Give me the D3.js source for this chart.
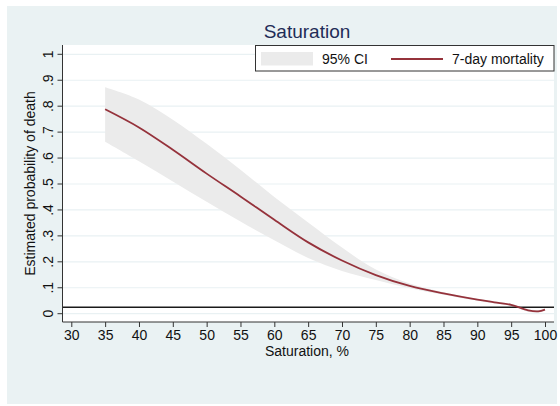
<!DOCTYPE html>
<html><head>
<script src="https://d3js.org/d3.v7.min.js"></script>
<style>
  body { margin: 0; background: #fff; }
  text { font-family: "Liberation Sans", Arial, sans-serif; }
</style>
</head>
<body>
<script>
// values
const saturation = [35, 40, 45, 50, 55, 60, 65, 70, 75, 80, 85, 90, 92.5, 95, 97.5, 99, 100];
const mortality  = [0.788, 0.718, 0.632, 0.540, 0.452, 0.362, 0.275, 0.205, 0.149, 0.107, 0.078, 0.054, 0.044, 0.034, 0.013, 0.009, 0.016];
const ciUpper    = [0.873, 0.826, 0.748, 0.655, 0.555, 0.450, 0.352, 0.255, 0.170, 0.116, 0.083, 0.058, 0.048, 0.038, 0.018, 0.014, 0.021];
const ciLower    = [0.663, 0.588, 0.510, 0.432, 0.355, 0.283, 0.215, 0.165, 0.130, 0.098, 0.073, 0.050, 0.040, 0.030, 0.008, 0.004, 0.011];
const refLine = 0.025;
const xTicks = [30, 35, 40, 45, 50, 55, 60, 65, 70, 75, 80, 85, 90, 95, 100];
const yTicks = [0, 0.1, 0.2, 0.3, 0.4, 0.5, 0.6, 0.7, 0.8, 0.9, 1];

const data = saturation.map((s, i) => ({x: s, y: mortality[i], lo: ciLower[i], hi: ciUpper[i]}));

const svg = d3.select("body").append("svg")
    .attr("width", 560).attr("height", 406);

// graph region
svg.append("rect").attr("x", 7).attr("y", 6).attr("width", 550).attr("height", 398)
    .style("fill", "#eaf2f3");

const plot = {left: 62.5, right: 554, top: 45, bottom: 322};
svg.append("rect")
    .attr("x", plot.left).attr("y", plot.top)
    .attr("width", plot.right - plot.left).attr("height", plot.bottom - plot.top)
    .style("fill", "#fff");

const x = d3.scaleLinear().domain([30, 100]).range([71.3, 545]);
const y = d3.scaleLinear().domain([0, 1]).range([313.7, 54.3]);

// gridlines
svg.append("g").selectAll("line").data(yTicks).join("line")
    .attr("x1", plot.left).attr("x2", plot.right)
    .attr("y1", d => y(d)).attr("y2", d => y(d))
    .style("stroke", "#e9f1f3").style("stroke-width", 1.2);

// CI band
const area = d3.area().curve(d3.curveCatmullRom)
    .x(d => x(d.x)).y0(d => y(d.lo)).y1(d => y(d.hi));
svg.append("path").datum(data).attr("d", area).style("fill", "#ebebeb");

// reference line
svg.append("line")
    .attr("x1", plot.left).attr("x2", plot.right)
    .attr("y1", y(refLine)).attr("y2", y(refLine))
    .style("stroke", "#1a1a1a").style("stroke-width", 1.4);

// mortality line
const line = d3.line().curve(d3.curveCatmullRom).x(d => x(d.x)).y(d => y(d.y));
svg.append("path").datum(data).attr("d", line)
    .style("fill", "none").style("stroke", "#95323b").style("stroke-width", 1.8);

// axes
const xAxis = svg.append("g").attr("transform", "translate(0," + plot.bottom + ")")
    .call(d3.axisBottom(x).tickValues(xTicks).tickSize(5).tickSizeOuter(0).tickPadding(3));
xAxis.select(".domain").attr("d", "M" + plot.left + ",0H" + plot.right);
xAxis.selectAll("text").style("font-size", "14px").style("fill", "#111");
xAxis.selectAll("line, .domain").style("stroke", "#333");

const yAxis = svg.append("g").attr("transform", "translate(" + plot.left + ",0)")
    .call(d3.axisLeft(y).tickValues(yTicks).tickSize(5).tickSizeOuter(0)
      .tickFormat(d => d === 0 ? "0" : d === 1 ? "1" : d3.format(".1f")(d).replace(/^0/, "")));
yAxis.select(".domain").attr("d", "M0," + plot.top + "V" + plot.bottom);
yAxis.selectAll("line, .domain").style("stroke", "#333");
yAxis.selectAll("text")
    .attr("x", null).attr("dy", null)
    .attr("text-anchor", "middle")
    .attr("transform", d => "translate(-10," + y(d) + ") rotate(-90)")
    .attr("y", 0)
    .style("font-size", "14px").style("fill", "#111");
yAxis.selectAll(".tick").attr("transform", null);
yAxis.selectAll(".tick line").attr("y1", d => y(d)).attr("y2", d => y(d));

// titles
svg.append("text").attr("x", 307).attr("y", 38).attr("text-anchor", "middle")
    .style("font-size", "19px").style("fill", "#1f2d57").text("Saturation");
svg.append("text").attr("x", 307).attr("y", 356).attr("text-anchor", "middle")
    .style("font-size", "14px").style("fill", "#111").text("Saturation, %");
svg.append("text").attr("transform", "translate(35," + ((plot.top + plot.bottom) / 2) + ") rotate(-90)")
    .attr("text-anchor", "middle")
    .style("font-size", "14px").style("fill", "#111").text("Estimated probability of death");

// legend
const lg = svg.append("g");
lg.append("rect").attr("x", 255.5).attr("y", 45.5).attr("width", 298.5).attr("height", 25.5)
    .style("fill", "#fff").style("stroke", "#333").style("stroke-width", 1);
lg.append("rect").attr("x", 261).attr("y", 52).attr("width", 52).attr("height", 13.5)
    .style("fill", "#ebebeb");
lg.append("text").attr("x", 322).attr("y", 64).style("font-size", "14px").style("fill", "#111").text("95% CI");
lg.append("line").attr("x1", 391).attr("x2", 443).attr("y1", 59).attr("y2", 59)
    .style("stroke", "#95323b").style("stroke-width", 1.8);
lg.append("text").attr("x", 452).attr("y", 64).style("font-size", "14px").style("fill", "#111").text("7-day mortality");
</script>
</body></html>
